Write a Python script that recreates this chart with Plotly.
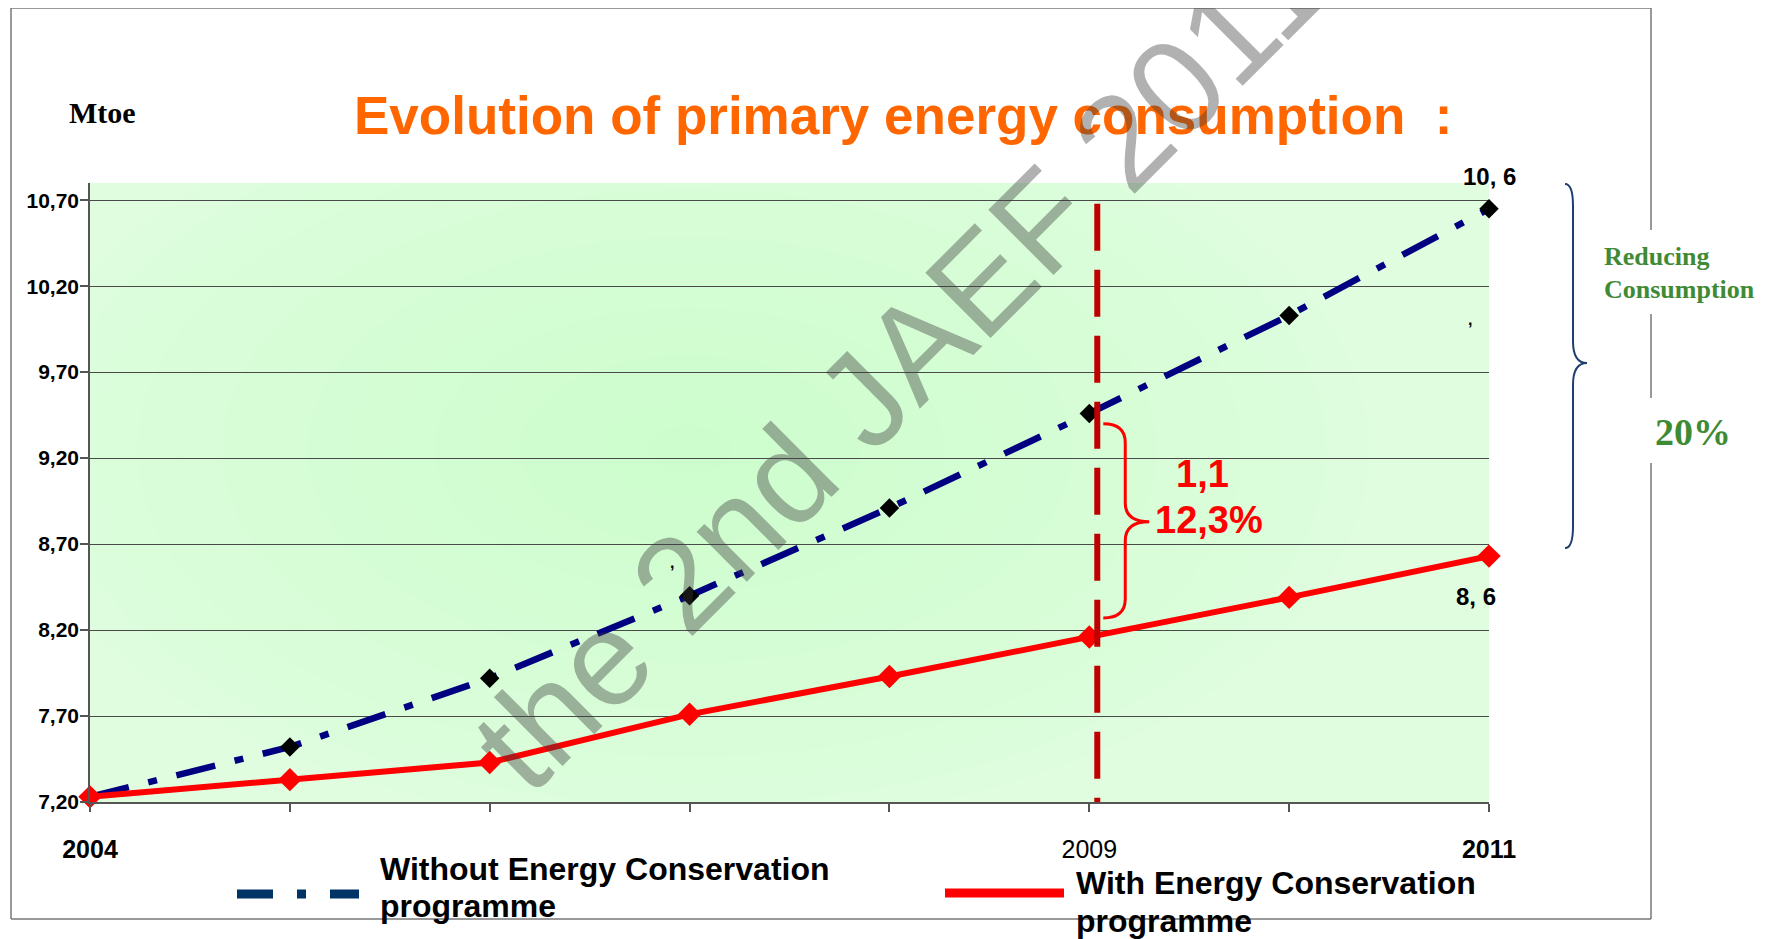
import plotly.graph_objects as go

years = [2004, 2005, 2006, 2007, 2008, 2009, 2010, 2011]
without_ecp = [7.23, 7.52, 7.92, 8.40, 8.91, 9.46, 10.03, 10.65]
with_ecp = [7.23, 7.33, 7.43, 7.71, 7.93, 8.16, 8.39, 8.63]

y_ticks = [7.2, 7.7, 8.2, 8.7, 9.2, 9.7, 10.2, 10.7]
y_tick_labels = ["7,20", "7,70", "8,20", "8,70", "9,20", "9,70", "10,20", "10,70"]
x_tick_labels = ["<b>2004</b>", "", "", "", "", "2009", "", "<b>2011</b>"]

# page is drawn with an 8px body margin, so the figure is 16px smaller than the window
W, H = 1761, 931
# plot area as seen on screen
PL, PR, PT, PB = 90, 1489, 183, 802


def px(x):
    return (x - PL) / (PR - PL)


def py(y):
    return (PB - y) / (PB - PT)


fig = go.Figure()

fig.add_trace(go.Scatter(x=years, y=without_ecp, mode="lines+markers",
                         line=dict(color="#000080", width=6.5, dash="40px,20px,9px,20px"),
                         marker=dict(symbol="diamond", size=15, color="black"),
                         cliponaxis=False, showlegend=False,
                         name="Without Energy Conservation programme"))
fig.add_trace(go.Scatter(x=years, y=with_ecp, mode="lines+markers",
                         line=dict(color="#ff0000", width=6),
                         marker=dict(symbol="diamond", size=18, color="#ff0000"),
                         cliponaxis=False, showlegend=False,
                         name="With Energy Conservation programme"))

shapes = []

# soft radial glow in the plot background
n = 16
for i in range(n):
    k = 1 - i / n
    shapes.append(dict(type="circle", xref="x", yref="y", layer="below",
                       x0=2007.0 - 3.4 * k, x1=2007.0 + 3.4 * k,
                       y0=9.25 - 2.2 * k, y1=9.25 + 2.2 * k,
                       fillcolor="#a8f0a8", opacity=0.028, line=dict(width=0)))

# 2009 marker line
shapes.append(dict(type="line", xref="x", yref="y", x0=2009.04, x1=2009.04, y0=10.68, y1=7.2,
                   line=dict(color="#c00000", width=6, dash="47px,19px")))

# red brace between the two curves in 2009
x0, x1, x2 = 2009.07, 2009.18, 2009.30
yt, ym, yb, d = 9.40, 8.83, 8.27, 0.11
shapes.append(dict(type="path", xref="x", yref="y",
                   path=(f"M{x0},{yt} Q{x1},{yt} {x1},{yt - d} L{x1},{ym + d} "
                         f"Q{x1},{ym} {x2},{ym} Q{x1},{ym} {x1},{ym - d} "
                         f"L{x1},{yb + d} Q{x1},{yb} {x0},{yb}"),
                   line=dict(color="#ff0000", width=3)))

# outer brace on the right
bx0, bx1, bx2 = px(1565), px(1573), px(1587)
byt, bym, byb = py(184), py(363), py(548)
bd = (byt - byb) * 0.06
shapes.append(dict(type="path", xref="paper", yref="paper",
                   path=(f"M{bx0},{byt} Q{bx1},{byt} {bx1},{byt - bd} L{bx1},{bym + bd} "
                         f"Q{bx1},{bym} {bx2},{bym} Q{bx1},{bym} {bx1},{bym - bd} "
                         f"L{bx1},{byb + bd} Q{bx1},{byb} {bx0},{byb}"),
                   line=dict(color="#1f3f6f", width=2)))

# slide frame
frame = [((11, 8), (1651, 8)), ((11, 8), (11, 919)), ((11, 919), (1651, 919)),
         ((1651, 8), (1651, 230)), ((1651, 314), (1651, 398)), ((1651, 463), (1651, 919))]
for (ax, ay), (bx, by) in frame:
    shapes.append(dict(type="line", xref="paper", yref="paper",
                       x0=px(ax), y0=py(ay), x1=px(bx), y1=py(by),
                       line=dict(color="#777777", width=1.5)))

# legend samples
shapes.append(dict(type="line", xref="paper", yref="paper",
                   x0=px(237), x1=px(359), y0=py(894), y1=py(894),
                   line=dict(color="#003366", width=9, dash="36px,24px,9px,24px,30px")))
shapes.append(dict(type="line", xref="paper", yref="paper",
                   x0=px(945), x1=px(1064), y0=py(893), y1=py(893),
                   line=dict(color="#ff0000", width=9)))

SANS = "Liberation Sans, Arial, sans-serif"
SERIF = "Liberation Serif, Times New Roman, serif"


def note(text, x, y, size, color="black", family=SANS, xanchor="center", angle=0):
    return dict(text=text, xref="paper", yref="paper", x=px(x), y=py(y),
                xanchor=xanchor, yanchor="middle", showarrow=False, textangle=angle,
                font=dict(family=family, size=size, color=color))


annotations = [
    note("<b>Evolution of primary energy consumption  :</b>", 903, 116, 53, "#ff6600"),
    note("<b>Mtoe</b>", 102, 113, 30, family=SERIF),
    note("<b>10, 6</b>", 1489, 176, 24),
    note("<b>8, 6</b>", 1476, 596, 24),
    note("<b>1,1</b>", 1202, 474, 38, "#ff0000"),
    note("<b>12,3%</b>", 1209, 520, 38, "#ff0000"),
    note("<b>Reducing</b>", 1602, 257, 26, "#3f8a35", SERIF, "left"),
    note("<b>Consumption</b>", 1602, 289, 26, "#3f8a35", SERIF, "left"),
    note("<b>20%</b>", 1693, 432, 38, "#3f8a35", SERIF),
    note("<b>,</b>", 672, 562, 16),
    note("<b>,</b>", 1470, 319, 16),
    note("<b>Without Energy Conservation</b>", 378, 869, 32, xanchor="left"),
    note("<b>programme</b>", 378, 906, 32, xanchor="left"),
    note("<b>With Energy Conservation</b>", 1074, 883, 32, xanchor="left"),
    note("<b>programme</b>", 1074, 921, 32, xanchor="left"),
    note("the 2nd JAEF 2011", 898, 364, 134, "rgba(60,60,60,0.4)", angle=-45),
]

fig.update_layout(
    width=W, height=H,
    margin=dict(l=PL - 8, r=W - (PR - 8), t=PT - 8, b=H - (PB - 8), pad=0),
    paper_bgcolor="white",
    plot_bgcolor="#e0fde0",
    font=dict(family=SANS, color="black"),
    shapes=shapes,
    annotations=annotations,
    xaxis=dict(range=[2004, 2011], tickvals=years, ticktext=x_tick_labels,
               tickfont=dict(size=25), ticks="outside", ticklen=8, tickwidth=1.5,
               tickcolor="#555555", ticklabelstandoff=16,
               showline=True, linecolor="#555555", linewidth=1.5,
               showgrid=False, zeroline=False),
    yaxis=dict(range=[7.2, 10.8], tickvals=y_ticks,
               ticktext=[f"<b>{t}</b>" for t in y_tick_labels],
               tickfont=dict(size=21), ticks="outside", ticklen=8, tickwidth=1.5,
               tickcolor="#555555", ticklabelstandoff=-3,
               showline=True, linecolor="#555555", linewidth=1.5,
               showgrid=True, gridcolor="#4a4a4a", gridwidth=1.3, zeroline=False),
)

fig.write_html("out.html")
